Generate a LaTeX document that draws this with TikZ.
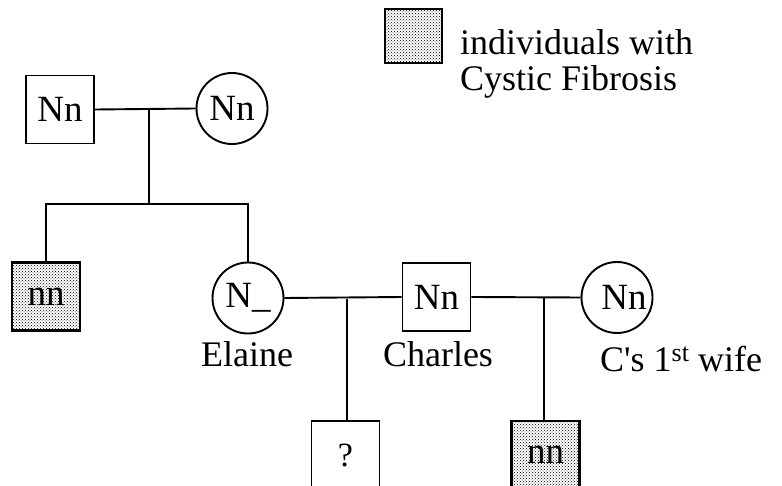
\documentclass[tikz,border=0pt]{standalone}
\usepackage{fontspec}
\setmainfont{Liberation Serif}
\usetikzlibrary{patterns}
\begin{document}
\begin{tikzpicture}[x=1pt,y=-1pt,
  lbl/.style={font=\fontsize{36}{40}\selectfont, inner sep=0pt},
  male/.style={draw, line width=1.9pt, rectangle, minimum width=68pt, minimum height=68pt, inner sep=0pt, font=\fontsize{37}{40}\selectfont},
  female/.style={draw, line width=1.9pt, circle, minimum size=71pt, inner sep=0pt, font=\fontsize{37}{40}\selectfont},
  affected/.style={male, line width=2.6pt, pattern=crosshatch dots},
  link/.style={line width=1.9pt}]
\useasboundingbox (0,0) rectangle (782,486);
% legend
\node[affected, minimum width=57pt, minimum height=54pt] (leg) at (413.5,36) {};
\node[lbl, anchor=west, align=left] (legtxt) at (460,64) {individuals with\\[-4pt]Cystic Fibrosis};
% generation I
\node[male] (gf) at (60,109.5) {Nn};
\node[female] (gm) at (232,108.5) {Nn};
\coordinate (m1) at (149,109);
\coordinate (s1) at (149,204);
% generation II
\node[affected, font=\fontsize{37}{40}\selectfont] (uncle) at (46,296.5) {nn};
\node[female] (elaine) at (248,298) {N\_};
\node[lbl] (elainelbl) at (247,354) {Elaine};
\node[male] (charles) at (436.5,297) {Nn};
\node[lbl] (charleslbl) at (438,354) {Charles};
\node[female] (wife) at (617,297.5) {\hspace{14pt}Nn};
\node[lbl, anchor=west] (wifelbl) at (600,359) {C\textquotesingle s 1\raisebox{10pt}{\fontsize{26}{28}\selectfont st} wife};
% generation III
\node[male, font=\fontsize{34}{38}\selectfont] (q) at (345.5,455) {?};
\node[affected, font=\fontsize{37}{40}\selectfont] (half) at (545.5,455) {nn};
\coordinate (m2) at (347,299);
\coordinate (m3) at (544,298);
% connectors
\draw[link] (gf.east) -- (gm.west);
\draw[link] (m1) -- (s1);
\draw[link] (uncle.north) |- (s1) -| (elaine.north);
\draw[link] (elaine.east) -- (charles.west);
\draw[link] (charles.east) -- (wife.west);
\draw[link] (m2) -- (m2 |- q.north);
\draw[link] (m3) -- (m3 |- half.north);
\end{tikzpicture}
\end{document}
